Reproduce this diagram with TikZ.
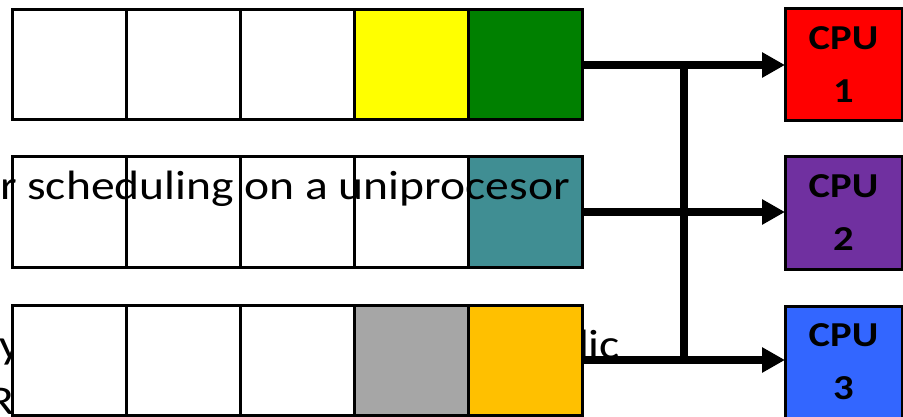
\documentclass[tikz,border=0pt]{standalone}
\usepackage{fontspec}
\setmainfont{Carlito}
\newfontfamily\widefont[FakeStretch=1.16]{Carlito}
\usetikzlibrary{arrows.meta}
\definecolor{cyellow}{HTML}{FFFF00}
\definecolor{cgreen}{HTML}{008000}
\definecolor{cteal}{HTML}{408E93}
\definecolor{cgray}{HTML}{A6A6A6}
\definecolor{corange}{HTML}{FFC000}
\definecolor{cred}{HTML}{FF0000}
\definecolor{cpurple}{HTML}{7030A0}
\definecolor{cblue}{HTML}{3366FF}
\begin{document}
\begin{tikzpicture}[x=1pt,y=-1pt,
  cell/.style={draw=black, line width=3pt, minimum width=114pt, minimum height=110pt, inner sep=0pt, outer sep=0pt, fill=white},
  cpubox/.style={draw=black, line width=3pt, minimum width=117pt, minimum height=112pt, inner sep=0pt, outer sep=0pt, font=\widefont\fontsize{35}{53}\selectfont\bfseries, align=center},
  link/.style={line width=8pt, -{Triangle[length=23pt,width=24pt]}},
  bar/.style={line width=8pt},
  slidetext/.style={inner sep=0pt, outer sep=0pt, font=\widefont\fontsize{41}{49}\selectfont}]
\useasboundingbox (0,0) rectangle (903,417);
% text lying beneath the boxes
\node[slidetext, anchor=base west] (ty) at (-1,358) {y};
\node[slidetext, anchor=base west] (tlic) at (578,358) {lic};
\node[slidetext, anchor=base east] (tR) at (14,414) {R};
% row 1
\node[cell] (r1c1) at (69,65) {};
\node[cell] (r1c2) at (183,65) {};
\node[cell] (r1c3) at (297,65) {};
\node[cell, fill=cyellow] (r1c4) at (411,65) {};
\node[cell, fill=cgreen] (r1c5) at (525,65) {};
% row 2
\node[cell] (r2c1) at (69,212) {};
\node[cell] (r2c2) at (183,212) {};
\node[cell] (r2c3) at (297,212) {};
\node[cell] (r2c4) at (411,212) {};
\node[cell, fill=cteal] (r2c5) at (525,212) {};
% row 3
\node[cell] (r3c1) at (69,360) {};
\node[cell] (r3c2) at (183,360) {};
\node[cell] (r3c3) at (297,360) {};
\node[cell, fill=cgray] (r3c4) at (411,360) {};
\node[cell, fill=corange] (r3c5) at (525,360) {};
% CPUs
\node[cpubox, fill=cred] (cpu1) at (843.5,65) {CPU\\1};
\node[cpubox, fill=cpurple] (cpu2) at (843.5,213) {CPU\\2};
\node[cpubox, fill=cblue] (cpu3) at (843.5,362) {CPU\\3};
% overlay text
\node[slidetext, anchor=base west] (tmain) at (0,200) {r scheduling on a uniprocesor};
% connectors
\coordinate (jt) at (684,65);
\coordinate (jb) at (684,360);
\draw[bar] (jt) -- (jb);
\draw[link] (r1c5.east) -- (r1c5.east -| cpu1.west);
\draw[link] (r2c5.east) -- (r2c5.east -| cpu2.west);
\draw[link] (r3c5.east) -- (r3c5.east -| cpu3.west);
\end{tikzpicture}
\end{document}
